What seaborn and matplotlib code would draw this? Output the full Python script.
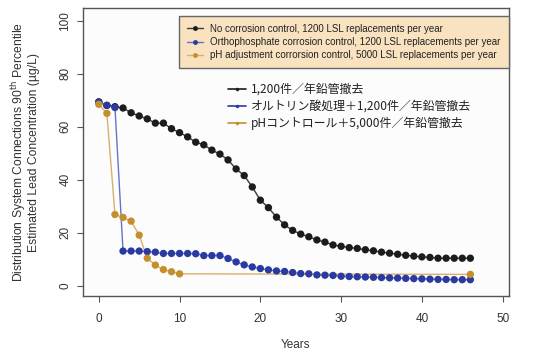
import numpy as np
import pandas as pd
import matplotlib
matplotlib.use("Agg")
import matplotlib.pyplot as plt
from matplotlib.lines import Line2D
import seaborn as sns

# ---- data ----
years_full = list(range(0, 47))
no_control = [69.3, 68.0, 67.5, 67.0, 65.2, 64.0, 62.9, 61.3, 61.3, 59.2,
              57.7, 56.1, 54.1, 53.1, 51.1, 49.6, 47.4, 44.0, 41.5, 37.2,
              32.2, 29.4, 25.8, 22.9, 20.8, 19.4, 18.4, 17.2, 16.4, 15.3,
              14.8, 14.3, 14.0, 13.5, 13.1, 12.6, 12.2, 11.8, 11.4, 11.1,
              10.8, 10.6, 10.3, 10.3, 10.3, 10.3, 10.3]
ortho = [69.3, 68.0, 67.2, 13.0, 13.0, 13.0, 12.8, 12.6, 12.1, 12.1,
         12.1, 12.1, 12.0, 11.3, 11.3, 11.3, 10.2, 8.9, 7.8, 7.0,
         6.4, 5.9, 5.5, 5.3, 4.9, 4.5, 4.4, 4.0, 3.9, 3.8,
         3.5, 3.4, 3.3, 3.2, 3.1, 3.0, 2.9, 2.8, 2.7, 2.6,
         2.5, 2.4, 2.3, 2.3, 2.2, 2.2, 2.2]
years_ph = [0, 1, 2, 3, 4, 5, 6, 7, 8, 9, 10, 46]
ph_adj = [68.4, 65.0, 26.8, 25.7, 24.3, 19.0, 10.3, 7.7, 6.0, 5.2, 4.4, 4.2]

series_en = ["No corrosion control, 1200 LSL replacements per year",
             "Orthophosphate corrosion control, 1200 LSL replacements per year",
             "pH adjustment corrorsion control, 5000 LSL replacements per year"]
series_jp = ["1,200件／年鉛管撤去",
             "オルトリン酸処理＋1,200件／年鉛管撤去",
             "pHコントロール＋5,000件／年鉛管撤去"]
marker_colors = ["#1c1c1c", "#2a3aa0", "#c4902e"]
line_colors = ["#3a3a3a", "#6474c8", "#d9b06a"]

df = pd.concat([
    pd.DataFrame({"Years": years_full, "Lead": no_control, "Series": series_en[0]}),
    pd.DataFrame({"Years": years_full, "Lead": ortho, "Series": series_en[1]}),
    pd.DataFrame({"Years": years_ph, "Lead": ph_adj, "Series": series_en[2]}),
], ignore_index=True)

sns.set_style("white")
plt.rcParams["font.family"] = ["Liberation Sans", "DejaVu Sans"]

fig = plt.figure(figsize=(5.51, 3.5), dpi=100)
ax = fig.add_axes([0.150, 0.154, 0.774, 0.822])
ax.set_facecolor("#fcfcfc")

sns.lineplot(data=df, x="Years", y="Lead", hue="Series", hue_order=series_en,
             palette=dict(zip(series_en, line_colors)), linewidth=1.0,
             legend=False, ax=ax, sort=False)
sns.scatterplot(data=df, x="Years", y="Lead", hue="Series", hue_order=series_en,
                palette=dict(zip(series_en, marker_colors)), s=28,
                linewidth=0, legend=False, ax=ax, zorder=3)

ax.set_xlim(-2, 50.8)
ax.set_ylim(-4, 104.6)
ax.set_xticks([0, 10, 20, 30, 40, 50])
ax.set_yticks([0, 20, 40, 60, 80, 100])
ax.tick_params(axis="both", direction="out", length=4, width=0.8,
               colors="#555555", labelcolor="#333333", labelsize=8.5,
               bottom=True, left=True)
ax.tick_params(axis="x", pad=8)
ax.tick_params(axis="y", pad=4)
for lab in ax.get_yticklabels():
    lab.set_rotation(90)
    lab.set_va("center")
for sp in ax.spines.values():
    sp.set_color("#555555")
    sp.set_linewidth(1.0)

ax.set_xlabel("Years", fontsize=8.5, color="#333333", labelpad=10)
ax.set_ylabel("Distribution System Connections 90$^{\\mathrm{th}}$ Percentile\n"
              "Estimated Lead Concentration (µg/L)",
              fontsize=8.7, color="#333333", labelpad=14, linespacing=1.0)

h1 = [Line2D([0], [0], color=lc, marker="o", markersize=3.5,
             markerfacecolor=mc, markeredgewidth=0, linewidth=1.0)
      for lc, mc in zip(line_colors, marker_colors)]
leg1 = ax.legend(h1, series_en, loc="upper right", bbox_to_anchor=(1.0, 0.975),
                 fontsize=7.0, frameon=True, fancybox=False,
                 facecolor="#f8e2bf", edgecolor="#666666", framealpha=1,
                 handlelength=1.6, handletextpad=0.8, borderpad=0.85,
                 labelspacing=0.32, borderaxespad=0.0)
leg1.get_frame().set_linewidth(1.0)
for t in leg1.get_texts():
    t.set_color("#222222")
ax.add_artist(leg1)

h2 = [Line2D([0], [0], color=mc, marker="o", markersize=2.5,
             markeredgewidth=0, linewidth=1.2) for mc in marker_colors]
leg2 = ax.legend(h2, series_jp, loc="upper left", bbox_to_anchor=(0.33, 0.757),
                 prop={"family": ["Noto Sans CJK JP", "DejaVu Sans"], "size": 8.6},
                 frameon=False, handlelength=1.5, handletextpad=0.4,
                 labelspacing=0.32, borderaxespad=0.0)
for t in leg2.get_texts():
    t.set_color("#222222")

fig.savefig("out.png", dpi=100, facecolor="white")
